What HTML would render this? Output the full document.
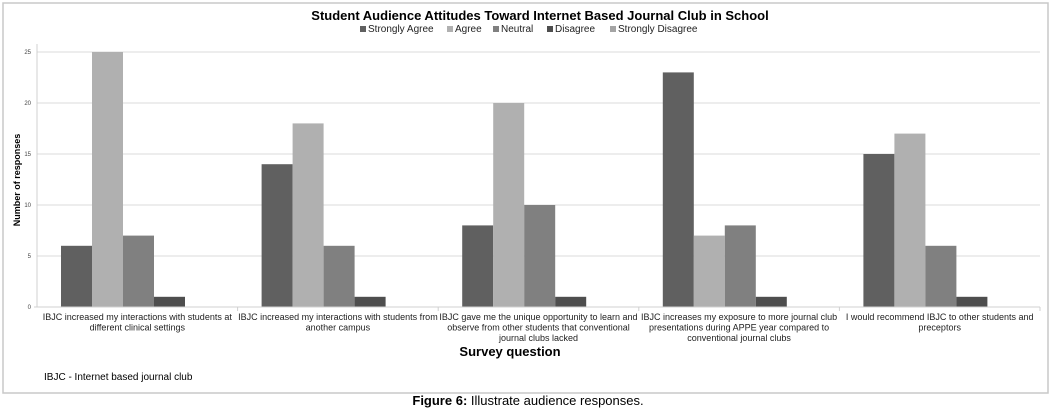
<!DOCTYPE html>
<html><head><meta charset="utf-8"><style>
body{margin:0;background:#fff;font-family:"Liberation Sans",Arial,sans-serif;}
svg text{font-family:"Liberation Sans",Arial,sans-serif;}
</style></head><body>
<svg id="c" width="1051" height="411" viewBox="0 0 1051 411">
<rect x="3" y="3" width="1045" height="390" fill="#fff" stroke="#c8c8c8" stroke-width="1.5"/>
<text x="540" y="20" text-anchor="middle" font-size="13" font-weight="bold">Student Audience Attitudes Toward Internet Based Journal Club in School</text>
<g id="legend"></g>
<g id="grid"></g><g id="bars"></g><g id="axes"></g>
<text transform="translate(20,180) rotate(-90)" text-anchor="middle" font-size="9" font-weight="bold">Number of responses</text>
<text x="510" y="356" text-anchor="middle" font-size="13" font-weight="bold">Survey question</text>
<text x="44" y="380" font-size="10">IBJC - Internet based journal club</text>
<text x="528" y="405" text-anchor="middle" font-size="13"><tspan font-weight="bold">Figure 6:</tspan> Illustrate audience responses.</text>
</svg>
<script>
const categories=[
["IBJC increased my interactions with students at","different clinical settings"],
["IBJC increased my interactions with students from","another campus"],
["IBJC gave me the unique opportunity to learn and","observe from other students that conventional","journal clubs lacked"],
["IBJC increases my exposure to more journal club","presentations during APPE year compared to","conventional journal clubs"],
["I would recommend IBJC to other students and","preceptors"]];
const seriesNames=["Strongly Agree","Agree","Neutral","Disagree","Strongly Disagree"];
const stronglyAgree=[6,14,8,23,15];
const agree=[25,18,20,7,17];
const neutral=[7,6,10,8,6];
const disagree=[1,1,1,1,1];
const stronglyDisagree=[0,0,0,0,0];
const yTicks=[0,5,10,15,20,25];
const series=[stronglyAgree,agree,neutral,disagree,stronglyDisagree];
const colors=["#606060","#b0b0b0","#808080","#4e4e4e","#a4a4a4"];
const NS="http://www.w3.org/2000/svg";
const x0=37,x1=1040,y0=307,yTop=52,yMax=25;
const y=v=>y0-(v/yMax)*(y0-yTop);
const cw=(x1-x0)/categories.length;
const cx=i=>x0+i*cw;
function mk(t,a,p){const e=document.createElementNS(NS,t);for(const k in a)e.setAttribute(k,a[k]);p.appendChild(e);return e;}
const grid=document.getElementById('grid'),bars=document.getElementById('bars'),axes=document.getElementById('axes'),legend=document.getElementById('legend');
yTicks.forEach(t=>{
 if(t>0){const g=mk('line',{x1:x0,x2:x1,y1:y(t),y2:y(t),stroke:'#e2e2e2','stroke-width':1.2},grid);
 
 }
 const l=mk('text',{x:31,y:y(t)+2,'text-anchor':'end','font-size':6,fill:'#444'},axes);l.textContent=t;
 
 
});
const ax=mk('line',{x1:x0,x2:x0,y1:44,y2:y0,stroke:'#d0d0d0'},axes);


const bx=mk('line',{x1:x0-3,x2:x1,y1:y0,y2:y0,stroke:'#d0d0d0'},axes);


const bw=31,off=24;
categories.forEach((c,i)=>{
 const tk=mk('line',{x1:cx(i+1),x2:cx(i+1),y1:y0,y2:y0+4,stroke:'#d0d0d0'},axes);
 
 
 series.forEach((s,j)=>{
  if(s[i]<=0)return;
  const r=mk('rect',{x:cx(i)+off+j*bw,y:y(s[i]),width:bw,height:y0-y(s[i]),fill:colors[j]},bars);
  
  
 });
 c.forEach((ln,k)=>{
  const t=mk('text',{x:cx(i)+cw/2,y:320+k*10.5,'text-anchor':'middle','font-size':9,fill:'#222'},axes);t.textContent=ln;
  
  
 });
});
const lx=[360,447,493,547,610];
seriesNames.forEach((n,j)=>{
 const r=mk('rect',{x:lx[j],y:26,width:6,height:6,fill:colors[j]},legend);
 
 
 const t=mk('text',{x:lx[j]+8,y:32,'font-size':10,fill:'#222'},legend);t.textContent=n;
 
 
});
</script>
</body></html>
